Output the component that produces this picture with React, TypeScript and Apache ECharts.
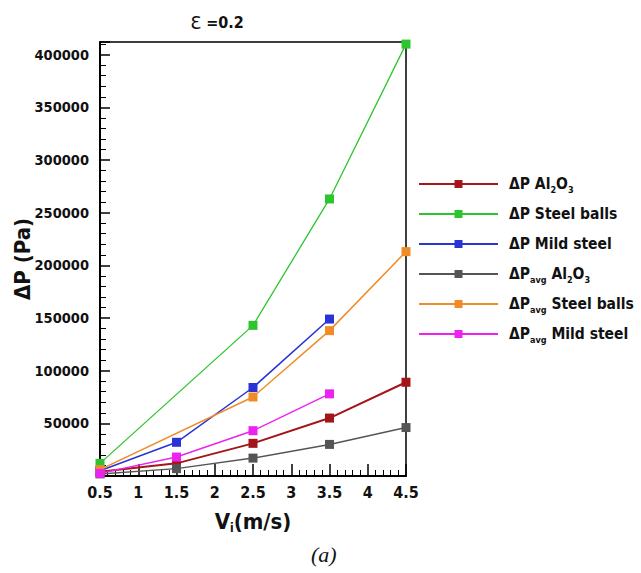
import React, { useEffect, useRef } from "react";
import * as echarts from "echarts";

const velocities = [0.5, 1.5, 2.5, 3.5, 4.5];
const dpAl2O3 = [4000, 12000, 31000, 55000, 89000];
const dpSteelBalls = [12000, null, 143000, 263000, 410000];
const dpMildSteel = [5000, 32000, 84000, 149000, null];
const dpAvgAl2O3 = [2000, 7000, 17000, 30000, 46000];
const dpAvgSteelBalls = [6000, null, 75000, 138000, 213000];
const dpAvgMildSteel = [2500, 18000, 43000, 78000, null];

const seriesNames = [
  "dP Al2O3",
  "dP Steel balls",
  "dP Mild steel",
  "dPavg Al2O3",
  "dPavg Steel balls",
  "dPavg Mild steel",
];
const legendLabels: Record<string, string> = {
  "dP Al2O3": "ΔP Al{s|2}O{s|3}",
  "dP Steel balls": "ΔP Steel balls",
  "dP Mild steel": "ΔP Mild steel",
  "dPavg Al2O3": "ΔP{s|avg} Al{s|2}O{s|3}",
  "dPavg Steel balls": "ΔP{s|avg} Steel balls",
  "dPavg Mild steel": "ΔP{s|avg} Mild steel",
};
const seriesValues = [dpAl2O3, dpSteelBalls, dpMildSteel, dpAvgAl2O3, dpAvgSteelBalls, dpAvgMildSteel];
const seriesColors = ["#a3161c", "#2ec42e", "#2a33d6", "#555555", "#f08c28", "#ee22ee"];
const seriesWidths = [2, 1.3, 1.5, 1.5, 1.5, 1.5];

const FONT = "'DejaVu Sans Condensed', 'Liberation Sans', sans-serif";

export default function App() {
  const ref = useRef<HTMLDivElement>(null);
  useEffect(() => {
    if (!ref.current) return;
    const chart = echarts.init(ref.current, null, { renderer: "svg" });
    const series = seriesNames.map((name, i) => ({
      name,
      type: "line",
      data: velocities.map((v, j) => [v, seriesValues[i][j]]),
      connectNulls: true,
      symbol: "rect",
      symbolSize: 9,
      color: seriesColors[i],
      lineStyle: { color: seriesColors[i], width: seriesWidths[i] },
      itemStyle: { color: seriesColors[i] },
      z: 3 + i,
    }));
    chart.setOption({
      animation: false,
      backgroundColor: "#ffffff",
      title: {
        text: "{e|Ɛ} =0.2",
        left: 212,
        top: 8,
        textAlign: "center",
        textStyle: {
          fontFamily: FONT,
          fontWeight: "bold",
          fontSize: 16,
          color: "#111",
          rich: {
            e: { fontFamily: "'DejaVu Sans'", fontWeight: "normal", fontSize: 18, color: "#111" },
          },
        },
      },
      grid: {
        left: 100,
        right: 235,
        top: 42,
        bottom: 97,
        show: true,
        borderColor: "#000",
        borderWidth: 1.5,
        backgroundColor: "transparent",
      },
      legend: {
        orient: "vertical",
        left: 418,
        top: 174,
        padding: 0,
        itemWidth: 79,
        itemHeight: 10,
        itemGap: 10,
        data: seriesNames,
        formatter: (name: string) => legendLabels[name],
        textStyle: {
          fontFamily: FONT,
          fontWeight: "bold",
          fontSize: 15.5,
          color: "#111",
          lineHeight: 20,
          padding: [0, 0, 0, 6],
          rich: {
            s: {
              fontFamily: FONT,
              fontWeight: "bold",
              fontSize: 9,
              lineHeight: 8,
              verticalAlign: "bottom",
              padding: [4, 0, 0, 0],
              color: "#111",
            },
          },
        },
      },
      xAxis: {
        type: "value",
        min: 0.5,
        max: 4.5,
        interval: 0.5,
        name: "V{s|i}(m/s)",
        nameLocation: "middle",
        nameGap: 32,
        nameMoveOverlap: false,
        nameTextStyle: {
          fontFamily: FONT,
          fontWeight: "bold",
          fontSize: 22,
          color: "#111",
          lineHeight: 26,
          rich: {
            s: { fontFamily: FONT, fontWeight: "bold", fontSize: 12, lineHeight: 12, verticalAlign: "bottom", color: "#111" },
          },
        },
        axisLine: { show: true, lineStyle: { color: "#000", width: 2 } },
        axisTick: { show: true, inside: true, length: 12, lineStyle: { color: "#000", width: 1.5 } },
        minorTick: { show: true, splitNumber: 5, length: 6, lineStyle: { color: "#000", width: 1 } },
        splitLine: { show: false },
        axisLabel: {
          fontFamily: FONT,
          fontWeight: "bold",
          fontSize: 16,
          color: "#111",
          margin: 8,
          formatter: (v: number) => String(v),
        },
      },
      yAxis: {
        type: "value",
        min: 0,
        max: 412000,
        interval: 50000,
        name: "ΔP (Pa)",
        nameLocation: "middle",
        nameGap: 67,
        nameMoveOverlap: false,
        nameRotate: 90,
        nameTextStyle: { fontFamily: FONT, fontWeight: "bold", fontSize: 22, color: "#111" },
        axisLine: { show: true, lineStyle: { color: "#000", width: 2 } },
        axisTick: { show: true, inside: true, length: 10, lineStyle: { color: "#000", width: 1.5 } },
        minorTick: { show: true, splitNumber: 5, length: 6, lineStyle: { color: "#000", width: 1 } },
        splitLine: { show: false },
        axisLabel: {
          fontFamily: FONT,
          fontWeight: "bold",
          fontSize: 14.5,
          color: "#111",
          margin: 11,
          formatter: (v: number) => (v > 0 && v % 50000 === 0 ? String(v) : ""),
        },
      },
      graphic: [
        {
          type: "text",
          left: 311,
          top: 543,
          style: {
            text: "(a)",
            fontFamily: "'Liberation Serif', serif",
            fontStyle: "italic",
            fontSize: 22,
            fill: "#111",
          },
        },
      ],
      series,
    });
    return () => chart.dispose();
  }, []);
  return <div ref={ref} style={{ width: 641, height: 573, position: "absolute", left: 0, top: 0 }} />;
}
